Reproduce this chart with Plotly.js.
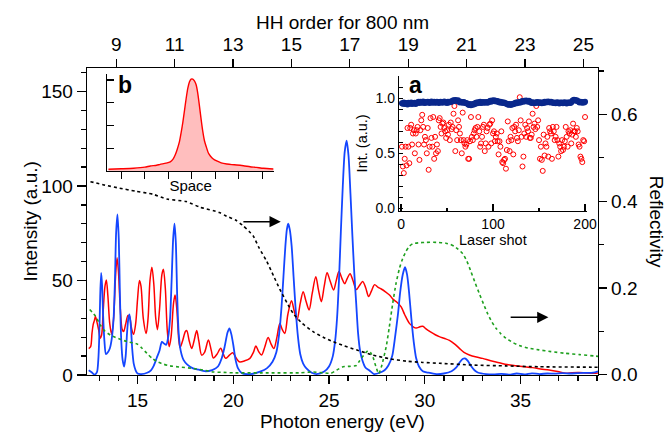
<!DOCTYPE html>
<html><head><meta charset="utf-8">
<script src="https://cdn.plot.ly/plotly-3.0.1.min.js"></script>
<style>html,body{margin:0;padding:0;background:#fff}#c{width:666px;height:432px}</style>
</head><body><div id="c"></div>
<script>
// ---- main spectrum: HH (blue) ----
const hhE = [12.45,12.6,12.75,12.88,12.95,13.0,13.05,13.1,13.15,13.2,13.27,13.35,13.45,13.55,13.65,13.75,13.82,13.88,13.95,14.02,14.08,14.15,14.22,14.3,14.38,14.45,14.52,14.58,14.65,14.72,14.8,14.9,15.0,15.2,15.5,15.7,15.85,16.0,16.15,16.27,16.4,16.5,16.6,16.7,16.78,16.86,16.93,17.0,17.07,17.15,17.25,17.4,17.6,17.9,18.2,18.5,18.9,19.2,19.4,19.55,19.7,19.8,19.9,20.0,20.12,20.25,20.45,20.9,21.4,21.75,22.05,22.25,22.4,22.52,22.62,22.72,22.8,22.87,22.95,23.05,23.15,23.25,23.38,23.5,23.65,23.82,24.1,24.35,24.75,25.0,25.2,25.32,25.42,25.52,25.62,25.72,25.82,25.92,26.02,26.12,26.22,26.32,26.42,26.52,26.62,26.75,26.9,27.1,27.35,27.65,27.9,28.1,28.3,28.45,28.6,28.72,28.85,28.97,29.08,29.18,29.3,29.42,29.55,29.7,29.9,30.2,30.6,31.0,31.4,31.65,31.85,32.0,32.1,32.25,32.4,32.6,32.8,33.2,33.6,34.0,34.4,34.8,35.2,35.6,36.0,36.4,36.8,37.2,37.6,38.0,38.4,38.8,39.05];
const hhI = [2.5,1.5,0.2,1.5,8,20,42,54,47,32,18,11,12,14,19,30,50,75,85,72,42,18,8,4.5,10,22,30,32,26,14,6,2.5,0.8,0.5,1.2,2.5,5,9,13,17.5,16.5,16,20,30,50,72,80,70,42,22,13,8,5.5,3.5,2.8,2,2.6,4.5,9,15,22.5,24.7,21.5,16,8,3.5,1,0.5,1.8,3.5,7,12,22,36,52,68,77,80,77,68,52,36,20,11,6,3.5,1.2,0.5,1.8,4.5,10,18,30,50,76,100,118,124,116,96,74,54,38,22,13,7.5,4,2.5,0.5,1.2,2.5,5,10,20,32,44,53,57,53,44,30,18,9,4.5,2,1.2,0.5,0.8,2,4,7,8.6,8.8,7.5,5,2.5,1.2,0.5,0.3,0.6,0.2,0.8,0.3,0.9,0.5,0.8,0.7,1.0,0.8,1.0,1.1,1.2,2];
// ---- broadband spectrum (red) ----
const bbE = [12.45,12.55,12.62,12.68,12.75,12.8,12.88,12.97,13.05,13.12,13.2,13.3,13.37,13.45,13.55,13.65,13.75,13.85,13.93,14.0,14.1,14.2,14.27,14.38,14.5,14.58,14.68,14.79,14.9,15.0,15.1,15.18,15.3,15.45,15.55,15.65,15.75,15.85,15.95,16.04,16.15,16.27,16.35,16.45,16.55,16.65,16.75,16.88,16.96,17.05,17.15,17.22,17.35,17.5,17.57,17.7,17.83,17.95,18.09,18.2,18.35,18.5,18.7,18.85,18.96,19.15,19.34,19.48,19.6,19.8,19.97,20.15,20.31,20.6,20.87,21.05,21.18,21.32,21.48,21.65,21.82,21.97,22.12,22.28,22.43,22.56,22.69,22.85,23.04,23.18,23.33,23.5,23.65,23.8,23.96,24.12,24.31,24.45,24.6,24.75,24.9,25.05,25.24,25.38,25.52,25.68,25.82,25.95,26.1,26.25,26.43,26.6,26.76,26.92,27.07,27.22,27.38,27.55,27.73,27.95,28.16,28.35,28.55,28.77,28.95,29.2,29.4,29.55,29.75,29.9,30.05,30.3,30.55,30.76,31.05,31.29,31.55,31.81,32.05,32.33,32.7,33.02,33.45,33.89,34.3,34.76,35.2,35.63,36.05,36.5,36.95,37.37,37.7,38.06,38.45,38.84,39.05];
const bbI = [14,15,22,26.5,29,31,28,23.8,19.5,21,33,47,50.3,42,27,21.5,30,52,62,55,35,24,23,27,31.5,31,25,21.5,27,40,50,47,30,22,30,50,57,48,30,24,35,53,56,46,24,15,20,38,42.3,35,19,14.5,18,23,23.5,18,14,18,23.5,18,10.5,12,18.5,13,9,11,14.1,11,8.8,10.5,11.8,9,7,7.5,8.8,12,15.3,12.5,10.6,15,19.9,16.5,14,20,27.3,24,22,32,39.3,34,29.1,38,44.1,39,34.4,43,52,45,38.8,47,54.1,50,45,50,54.7,51,48.3,51,53.6,50,45.2,47.5,49.5,46,41.5,44.5,47.8,46.5,45.5,44,42.3,40,38.5,36,32,27.3,25.5,24.8,25.5,25.8,24.5,22.8,21.3,20.3,19.3,18.3,16.5,14.1,12,10.6,9.5,8.8,7.5,6.5,5.5,4.9,4.4,3.9,3.2,2.6,1.8,0.9,1.2,1.3,1.0,0.9,1.0];
// ---- reflectivity curves (right axis) ----
const rBlackE = [12.54,13.3,14.06,14.9,15.8,16.53,17.54,18.27,19.27,19.66,20.14,20.52,20.83,21.04,21.35,21.74,22.1,22.43,22.8,23.13,23.6,24.17,24.7,25.21,25.8,26.43,27.29,28.1,29.03,29.9,30.77,32.5,34.24,35.97,38.84,39.05];
const rBlack = [0.445,0.437,0.430,0.423,0.416,0.405,0.399,0.386,0.374,0.365,0.356,0.343,0.330,0.320,0.292,0.262,0.228,0.197,0.166,0.141,0.118,0.099,0.086,0.076,0.066,0.057,0.045,0.037,0.031,0.028,0.026,0.022,0.020,0.018,0.017,0.017];
const rGreenE = [12.5,12.8,13.06,13.3,13.58,14.0,14.45,15.0,15.25,15.49,15.75,16.01,16.35,16.7,17.3,17.92,18.5,18.96,19.5,20.0,22.0,23.5,24.17,24.7,25.1,25.39,25.73,26.08,26.43,26.6,26.77,27.03,27.18,27.3,27.45,27.6,27.75,27.99,28.15,28.33,28.5,28.68,28.85,29.03,29.2,29.38,29.7,30.07,30.6,31.11,31.35,31.54,31.75,31.98,32.2,32.41,32.63,32.85,33.07,33.28,33.5,33.72,33.98,34.24,34.6,34.93,35.4,35.97,36.6,37.36,38.1,38.84,39.05];
const rGreen = [0.15,0.135,0.114,0.10,0.091,0.083,0.076,0.070,0.060,0.049,0.038,0.030,0.024,0.020,0.017,0.014,0.010,0.006,0.005,0.004,0.004,0.004,0.006,0.004,0.003,0.010,0.018,0.019,0.021,0.032,0.042,0.055,0.050,0.040,0.018,0.002,0.020,0.065,0.11,0.165,0.21,0.245,0.268,0.285,0.296,0.302,0.304,0.305,0.305,0.303,0.300,0.296,0.289,0.279,0.262,0.238,0.212,0.187,0.163,0.141,0.122,0.107,0.094,0.084,0.074,0.067,0.061,0.057,0.053,0.049,0.046,0.043,0.042];
// ---- top axis ticks ----
const hhTicks = [9,11,13,15,17,19,21,23,25];
// ---- inset a: shot-to-shot intensity ----
const shotBlue = [0.955,0.950,0.962,0.948,0.958,0.952,0.945,0.960,0.955,0.950,0.963,0.948,0.957,0.953,0.960,0.949,0.958,
0.962,0.968,0.958,0.970,0.965,0.960,0.972,0.963,0.958,0.967,0.961,0.970,0.964,0.957,0.966,0.971,0.960,0.965,0.968,0.959,0.963,0.970,0.966,0.958,0.962,0.969,0.964,0.960,0.967,0.972,0.961,0.965,0.958,0.968,0.963,0.970,0.966,0.972,
0.978,0.983,0.975,0.985,0.980,0.976,0.982,
0.968,0.962,0.970,0.965,0.960,0.967,0.963,0.958,0.955,0.952,
0.945,0.940,0.948,0.938,0.944,0.942,0.950,0.947,
0.958,0.962,0.955,0.965,0.960,0.968,0.957,0.963,0.966,0.959,0.964,0.961,0.967,0.960,0.965,
0.972,0.978,0.970,0.980,0.975,0.982,0.973,0.977,0.971,0.976,
0.966,0.962,0.968,0.960,0.965,0.958,0.963,0.955,0.952,0.950,
0.945,0.942,0.948,0.940,0.946,0.943,0.950,0.948,
0.958,0.962,0.956,0.965,0.960,0.966,0.962,
0.972,0.976,0.970,0.979,0.974,0.981,0.975,0.970,0.977,0.972,
0.962,0.958,0.965,0.960,0.956,0.963,0.959,0.966,0.961,0.957,0.964,0.960,0.955,0.962,0.958,
0.968,0.963,0.970,0.965,0.972,0.966,0.962,0.969,0.964,0.960,
0.958,0.962,0.955,0.960,0.964,0.957,0.953,0.961,0.958,0.963,0.956,0.960,0.965,0.958,0.954,0.962,0.959,0.963,0.957,0.961,
0.975,0.982,0.988,0.985,0.978,0.983,0.976,
0.968,0.962,0.970,0.965,0.960,0.967,0.963,0.968];
const shotRed = [0.56,0.38,0.32,0.45,0.56,0.39,0.73,0.56,0.41,0.73,
0.76,0.58,0.68,0.71,0.50,0.68,0.71,0.74,0.58,
0.44,0.71,0.80,0.85,0.74,0.58,0.65,0.62,0.50,0.73,
0.35,0.56,0.82,0.64,0.56,0.83,0.45,0.65,0.50,
0.58,0.52,0.80,0.82,0.74,0.68,0.77,0.78,0.73,0.70,
0.64,0.71,0.67,0.76,0.62,0.78,0.72,0.74,0.86,
0.93,0.52,0.71,0.62,0.80,0.74,0.68,0.62,0.50,0.87,
0.62,0.59,0.56,0.58,0.62,0.45,0.45,0.61,0.83,
0.65,0.62,0.68,0.71,0.73,0.65,0.74,0.83,0.70,0.56,
0.59,0.65,0.74,0.76,0.52,0.59,0.70,0.73,0.56,
0.76,0.77,0.59,0.80,0.68,0.70,0.61,0.65,0.68,0.61,
0.49,0.61,0.56,0.70,0.42,0.41,0.44,0.45,0.36,
0.53,0.79,0.61,0.52,0.65,0.62,0.73,0.49,0.74,0.70,
0.76,0.64,0.61,0.71,1.01,0.80,0.65,0.38,0.47,
0.68,0.76,0.65,0.73,0.70,0.79,0.64,0.64,0.67,0.86,
0.74,0.77,0.72,0.93,0.74,0.80,0.62,0.45,0.56,
0.44,0.34,0.67,0.48,0.59,0.56,0.65,0.47,0.73,0.70,
0.68,0.45,0.74,0.70,0.62,0.65,0.74,0.62,0.47,
0.59,0.56,0.52,0.62,0.53,0.56,0.61,0.74,0.65,0.56,
0.70,0.68,0.71,0.59,0.67,0.77,0.70,0.70,0.65,
0.73,0.70,0.58,0.56,0.47,0.45,0.42,0.62,0.61,0.83];
const shotsB = shotBlue.map((v,i)=>i+1);
const shotsR = shotRed.map((v,i)=>i+1);
// ---- inset b: spatial profile ----
const spaceX = [-3.55,-3.0,-2.48,-2.0,-1.77,-1.5,-1.35,-1.1,-0.92,-0.8,-0.71,-0.62,-0.53,-0.45,-0.38,-0.31,-0.24,-0.17,-0.10,-0.03,0.04,0.11,0.18,0.25,0.32,0.40,0.47,0.54,0.61,0.70,0.78,0.9,1.06,1.25,1.49,1.7,1.91,2.2,2.48,2.75,3.05,3.47];
const spaceI = [0.019,0.024,0.03,0.042,0.055,0.063,0.073,0.086,0.10,0.13,0.176,0.24,0.32,0.43,0.54,0.67,0.80,0.91,0.98,1.01,1.01,0.99,0.95,0.86,0.725,0.56,0.43,0.33,0.27,0.2,0.168,0.135,0.11,0.09,0.077,0.07,0.066,0.058,0.047,0.04,0.03,0.022];

const F = 'Liberation Sans, Arial, Helvetica, sans-serif';
const BLUE = 'rgb(20,70,255)', RED = 'rgb(255,0,0)', GREEN = 'rgb(30,160,30)', NAVY = 'rgb(10,40,140)';

const traces = [
  {x: bbE, y: bbI, type:'scatter', mode:'lines', line:{color:RED, width:1.5, shape:'spline', smoothing:0.9}, xaxis:'x', yaxis:'y', hoverinfo:'skip'},
  {x: hhE, y: hhI, type:'scatter', mode:'lines', line:{color:BLUE, width:1.8, shape:'spline', smoothing:0.7}, xaxis:'x', yaxis:'y', hoverinfo:'skip'},
  {x: rBlackE, y: rBlack, type:'scatter', mode:'lines', line:{color:'black', width:1.6, dash:'dot', shape:'spline', smoothing:0.6}, xaxis:'x', yaxis:'y2', hoverinfo:'skip'},
  {x: rGreenE, y: rGreen, type:'scatter', mode:'lines', line:{color:GREEN, width:1.6, dash:'dot', shape:'spline', smoothing:0.5}, xaxis:'x', yaxis:'y2', hoverinfo:'skip'},
  {x: hhTicks, y: hhTicks.map(()=>null), type:'scatter', mode:'lines', xaxis:'x2', yaxis:'y', hoverinfo:'skip'},
  {x: shotsR, y: shotRed, type:'scatter', mode:'markers', marker:{symbol:'circle-open', size:5, color:RED, line:{width:1, color:RED}}, xaxis:'x3', yaxis:'y3', hoverinfo:'skip', cliponaxis:false},
  {x: shotsB, y: shotBlue, type:'scatter', mode:'markers', marker:{symbol:'circle', size:6, color:NAVY}, xaxis:'x3', yaxis:'y3', hoverinfo:'skip', cliponaxis:false},
  {x: spaceX, y: spaceI, type:'scatter', mode:'lines', fill:'tozeroy', fillcolor:'rgb(255,190,190)', line:{color:RED, width:1.4, shape:'spline', smoothing:0.6}, xaxis:'x4', yaxis:'y4', hoverinfo:'skip'}
];

const ax = {showline:true, linecolor:'black', linewidth:1.3, tickcolor:'black', tickwidth:1.3, showgrid:false, zeroline:false, tickfont:{family:F, size:19, color:'black'}};
const axs = {showline:true, linecolor:'black', linewidth:1.2, tickcolor:'black', tickwidth:1.1, showgrid:false, zeroline:false, tickfont:{family:F, size:14, color:'black'}};

const layout = {
  width:666, height:432, margin:{l:87, r:68, t:68, b:57, pad:0},
  paper_bgcolor:'white', plot_bgcolor:'rgba(0,0,0,0)', showlegend:false,
  font:{family:F, size:19, color:'black'},
  xaxis: Object.assign({}, ax, {range:[12.36,39.05], anchor:'y', ticks:'outside', ticklen:8, tick0:0, dtick:5,
    minor:{ticks:'outside', ticklen:5, tick0:0, dtick:1, tickcolor:'black', tickwidth:1.3},
    title:{text:'Photon energy (eV)', font:{family:F, size:19}, standoff:6}}),
  xaxis2: Object.assign({}, ax, {range:[8,25.5], overlaying:'x', side:'top', anchor:'y', ticks:'outside', ticklen:8, tickvals:hhTicks}),
  yaxis: Object.assign({}, ax, {range:[0,162.4], anchor:'x', ticks:'outside', ticklen:9, tick0:0, dtick:50,
    minor:{ticks:'outside', ticklen:5, tick0:0, dtick:10, tickcolor:'black', tickwidth:1.3}}),
  yaxis2: Object.assign({}, ax, {range:[-0.001,0.7072], overlaying:'y', side:'right', anchor:'x', ticks:'outside', ticklen:8, tick0:0, dtick:0.2, tickformat:'.1f',
    minor:{ticks:'outside', ticklen:5, tick0:0, dtick:0.1, tickcolor:'black', tickwidth:1.3}}),
  xaxis3: Object.assign({}, axs, {domain:[0.6106,0.9779], anchor:'y3', range:[-2.2,201.8], ticks:'inside', ticklen:7, tickvals:[0,100,200],
    minor:{ticks:'inside', ticklen:3, tickvals:[50,150], tickcolor:'black', tickwidth:1.1},
    title:{text:'Laser shot', font:{family:F, size:14.5}, standoff:2}}),
  yaxis3: Object.assign({}, axs, {domain:[0.5352,0.9739], anchor:'x3', range:[-0.022,1.203], ticks:'inside', ticklen:4, tickvals:[0,0.5,1.0], tickformat:'.1f',
    minor:{ticks:'inside', ticklen:4, tick0:0, dtick:0.1, tickcolor:'black', tickwidth:1.1},
    title:{text:'Int. (a.u.)', font:{family:F, size:14.5}, standoff:4}}),
  xaxis4: Object.assign({}, axs, {domain:[0.0397,0.366], anchor:'y4', range:[-3.6,3.5], ticks:'outside', ticklen:7, tick0:0, dtick:1, showticklabels:false,
    title:{text:'Space', font:{family:F, size:15}, standoff:2}}),
  yaxis4: Object.assign({}, axs, {domain:[0.6645,0.9795], anchor:'x4', range:[0,1.063], ticks:'inside', ticklen:7, tick0:0, dtick:0.25, showticklabels:false}),
  annotations: [
    {xref:'paper', yref:'paper', x:0.5, y:1.1498, text:'HH order for 800 nm', showarrow:false, font:{family:F, size:19}, xanchor:'center', yanchor:'middle'},
    {xref:'paper', yref:'paper', x:-0.1115, y:0.5, text:'Intensity (a.u.)', textangle:-90, showarrow:false, font:{family:F, size:19}, xanchor:'center', yanchor:'middle'},
    {xref:'paper', yref:'paper', x:0.642, y:0.9446, text:'<b>a</b>', showarrow:false, font:{family:F, size:23}, xanchor:'center', yanchor:'middle'},
    {xref:'paper', yref:'paper', x:0.0753, y:0.9446, text:'<b>b</b>', showarrow:false, font:{family:F, size:23}, xanchor:'center', yanchor:'middle'},
    {xref:'paper', yref:'paper', x:1.1135, y:0.4993, text:'Reflectivity', textangle:90, showarrow:false, font:{family:F, size:19}, xanchor:'center', yanchor:'middle'},
    {xref:'x', yref:'y', x:22.48, y:81.1, axref:'x', ayref:'y', ax:20.45, ay:81.1, text:'', showarrow:true, arrowhead:2, arrowsize:1.5, arrowwidth:1.5, arrowcolor:'black'},
    {xref:'x', yref:'y', x:36.46, y:30.5, axref:'x', ayref:'y', ax:34.41, ay:30.5, text:'', showarrow:true, arrowhead:2, arrowsize:1.5, arrowwidth:1.5, arrowcolor:'black'}
  ]
};

Plotly.newPlot('c', traces, layout, {staticPlot:true, displayModeBar:false});
</script>
</body></html>
